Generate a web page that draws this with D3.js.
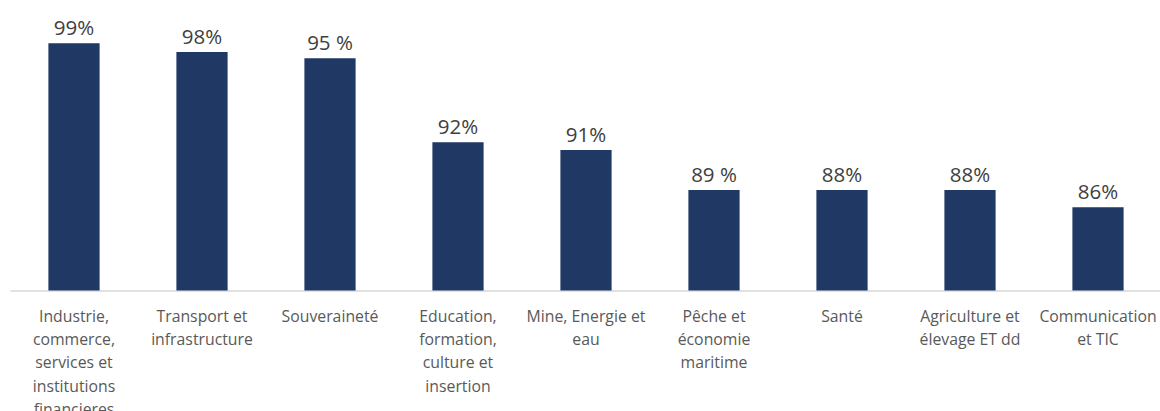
<!DOCTYPE html>
<html>
<head>
<meta charset="utf-8">
<script src="https://cdn.jsdelivr.net/npm/d3@7"></script>
<style>
  html, body { margin: 0; padding: 0; background: #ffffff; }
  svg { display: block; }
</style>
</head>
<body>
<svg id="chart" width="1160" height="411"></svg>
<script>
// Categories (line breaks as in the original chart)
const categories = [
  "Industrie,\ncommerce,\nservices et\ninstitutions\nfinancieres",
  "Transport et\ninfrastructure",
  "Souveraineté",
  "Education,\nformation,\nculture et\ninsertion",
  "Mine, Energie et\neau",
  "Pêche et\néconomie\nmaritime",
  "Santé",
  "Agriculture et\nélevage ET dd",
  "Communication\net TIC"
];
// Bar heights as drawn in the reference (0–100 scale)
const barValues = [98.9, 95.4, 92.9, 59.3, 56.2, 40.2, 40.2, 40.2, 33.3];
// Data labels exactly as printed
const valueLabels = ["99%", "98%", "95 %", "92%", "91%", "89 %", "88%", "88%", "86%"];

const W = 1160, H = 411;
const svg = d3.select("#chart");

const x = d3.scaleBand()
  .domain(d3.range(categories.length))
  .range([10, 1162])
  .paddingInner(0.6)
  .paddingOuter(0.3);

const y = d3.scaleLinear()
  .domain([0, 100])
  .range([290.5, 40.5]);

// baseline axis
const xAxis = d3.axisBottom(x).tickSize(0).tickFormat(() => "");
const axisG = svg.append("g")
  .attr("transform", `translate(0,${y(0)})`)
  .call(xAxis);
axisG.select(".domain").attr("stroke", "#d9d9d9").attr("stroke-width", 1.5);

// bars
svg.append("g").selectAll("rect")
  .data(barValues)
  .join("rect")
  .attr("x", (d, i) => x(i))
  .attr("width", x.bandwidth())
  .attr("y", d => y(d))
  .attr("height", d => y(0) - y(d))
  .attr("fill", "#203864");

// value labels
svg.append("g").selectAll("text")
  .data(barValues)
  .join("text")
  .attr("x", (d, i) => x(i) + x.bandwidth() / 2)
  .attr("y", d => y(d) - 8)
  .attr("text-anchor", "middle")
  .attr("font-family", "'Open Sans', sans-serif")
  .attr("font-size", 20.5)
  .attr("fill", "#404040")
  .text((d, i) => valueLabels[i]);

// category labels
const catG = svg.append("g");
categories.forEach((c, i) => {
  const t = catG.append("text")
    .attr("x", x(i) + x.bandwidth() / 2)
    .attr("y", 321.7)
    .attr("text-anchor", "middle")
    .attr("font-family", "'Open Sans', sans-serif")
    .attr("font-size", 15.8)
    .attr("fill", "#595959");
  c.split("\n").forEach((line, j) => {
    t.append("tspan")
      .attr("x", x(i) + x.bandwidth() / 2)
      .attr("dy", j === 0 ? 0 : 23.3)
      .text(line);
  });
});
</script>
</body>
</html>
